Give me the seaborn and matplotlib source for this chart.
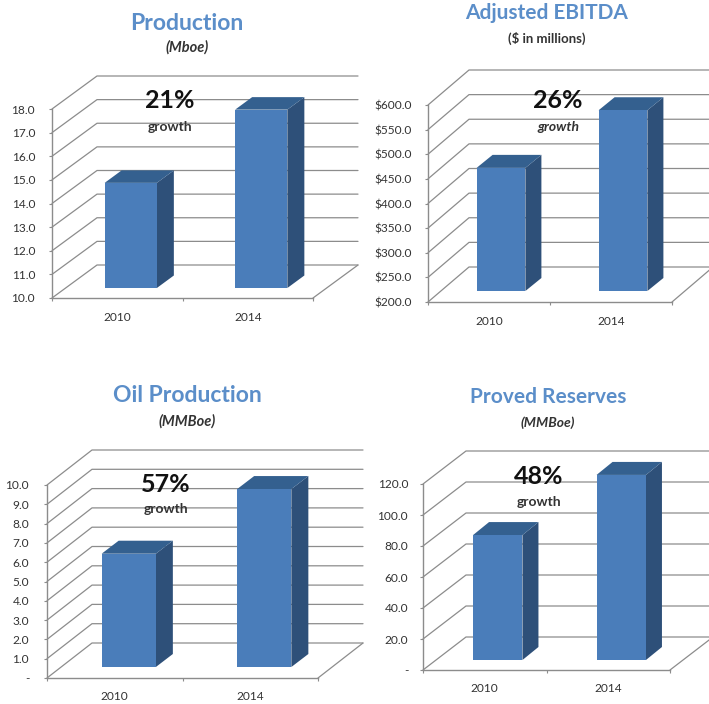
import matplotlib
matplotlib.use("Agg")
import matplotlib.pyplot as plt
import seaborn as sns
from matplotlib.lines import Line2D
from matplotlib.patches import Polygon
from matplotlib.transforms import Affine2D, IdentityTransform

# ---- data ----
years = ["2010", "2014"]
production = [14.45, 17.55]
ebitda = [450.0, 567.0]
oil = [5.87, 9.22]
reserves = [80.6, 119.4]

production_ticks = [10, 11, 12, 13, 14, 15, 16, 17, 18]
production_labels = ["10.0", "11.0", "12.0", "13.0", "14.0", "15.0", "16.0", "17.0", "18.0"]
ebitda_ticks = [200, 250, 300, 350, 400, 450, 500, 550, 600]
ebitda_labels = ["$200.0", "$250.0", "$300.0", "$350.0", "$400.0", "$450.0", "$500.0", "$550.0", "$600.0"]
oil_ticks = [0, 1, 2, 3, 4, 5, 6, 7, 8, 9, 10]
oil_labels = ["-", "1.0", "2.0", "3.0", "4.0", "5.0", "6.0", "7.0", "8.0", "9.0", "10.0"]
reserves_ticks = [0, 20, 40, 60, 80, 100, 120]
reserves_labels = ["-", "20.0", "40.0", "60.0", "80.0", "100.0", "120.0"]

W, H = 709, 704
FRONT, SIDE, TOP = "#4a7dba", "#2e5079", "#34608f"
GRID = "#8c8c8c"
TITLE_C = "#5b8ec9"

sns.set_style("white")
plt.rcParams["font.family"] = ["Lato", "DejaVu Sans"]
plt.rcParams["axes.unicode_minus"] = False

fig = plt.figure(figsize=(W / 100, H / 100), dpi=100, facecolor="white")

charts = [
    dict(vals=production, ticks=production_ticks, labels=production_labels,
         box=(52, 313, 109, 298), depth=(45, -33), inset=(13.5, -10), bar=(17, -12.5), pad=16,
         title="Production", title_xy=(187, 23), title_fs=16.5,
         sub="(Mboe)", sub_xy=(187, 47), sub_style="italic", sub_fs=10.5,
         pct="21%", pct_xy=(170, 101), growth_xy=(170, 127), growth_style="normal", xpad=12),
    dict(vals=ebitda, ticks=ebitda_ticks, labels=ebitda_labels,
         box=(428, 672, 105, 302), depth=(41, -35), inset=(12, -11), bar=(16, -13), pad=15,
         title="Adjusted EBITDA", title_xy=(547, 13), title_fs=15,
         sub="($ in millions)", sub_xy=(547, 38), sub_style="normal", sub_fs=9.5,
         pct="26%", pct_xy=(558, 100), growth_xy=(558, 127), growth_style="italic", xpad=12),
    dict(vals=oil, ticks=oil_ticks, labels=oil_labels,
         box=(47, 318, 485, 678), depth=(45, -35), inset=(14, -11), bar=(17, -13), pad=17,
         title="Oil Production", title_xy=(187, 396), title_fs=16.5,
         sub="(MMBoe)", sub_xy=(187, 421), sub_style="italic", sub_fs=10.5,
         pct="57%", pct_xy=(166, 484), growth_xy=(166, 509), growth_style="normal", xpad=11),
    dict(vals=reserves, ticks=reserves_ticks, labels=reserves_labels,
         box=(423, 670, 484, 670), depth=(43, -33), inset=(13, -10), bar=(16, -13), pad=14,
         title="Proved Reserves", title_xy=(548, 397), title_fs=15,
         sub="(MMBoe)", sub_xy=(548, 423), sub_style="italic", sub_fs=10,
         pct="48%", pct_xy=(539, 477), growth_xy=(539, 502), growth_style="normal", xpad=11),
]


def draw_chart(c):
    x0, x1, ytop, ybot = c["box"]
    ax = fig.add_axes([x0 / W, 1 - ybot / H, (x1 - x0) / W, (ybot - ytop) / H])
    ax.patch.set_alpha(0)
    sns.barplot(x=years, y=c["vals"], color=FRONT, saturation=1, width=0.4, linewidth=0, ax=ax, zorder=3)
    ymin, ymax = c["ticks"][0], c["ticks"][-1]
    ax.set_xlim(-0.5, 1.5)
    ax.set_ylim(ymin, ymax)
    ax.set_yticks(c["ticks"], c["labels"])
    ax.set_xticks([0, 1], years)
    ax.set_xticks([-0.5, 0.5, 1.5], minor=True)

    for s in ("top", "right"):
        ax.spines[s].set_visible(False)
    for s in ("left", "bottom"):
        ax.spines[s].set_color(GRID)
        ax.spines[s].set_linewidth(1.0)
    ax.tick_params(axis="y", which="major", left=True, length=2, width=0.8, color=GRID,
                   pad=c["pad"] * 0.72 - 1.4, labelsize=8.6, labelcolor="#333333")
    ax.tick_params(axis="x", which="major", length=0, pad=c["xpad"] * 0.72 + 1.4,
                   labelsize=8.6, labelcolor="#333333")
    ax.tick_params(axis="x", which="minor", bottom=True, length=2, width=0.8, color=GRID)

    dx, dy = c["depth"]
    ix, iy = c["inset"]
    bx, by = c["bar"]
    to_px = ax.transData.transform
    ident = IdentityTransform()

    # receding gridlines: from the y axis to the back wall, then across the wall
    for t in c["ticks"]:
        a = to_px((-0.5, t))
        b = to_px((1.5, t))
        xs = [a[0], a[0] + dx, b[0] + dx]
        ys = [a[1], a[1] - dy, b[1] - dy]
        ax.add_line(Line2D(xs, ys, transform=ident, color=GRID, lw=0.9, clip_on=False, zorder=1))
    # right edge of the floor
    a = to_px((1.5, ymin))
    ax.add_line(Line2D([a[0], a[0] + dx], [a[1], a[1] - dy], transform=ident,
                       color=GRID, lw=0.9, clip_on=False, zorder=1))

    # bars sit inside the floor depth: shift the seaborn bars and add top and side faces
    shift = Affine2D().translate(ix, -iy)
    for p, v in zip(ax.patches, c["vals"]):
        p.set_y(ymin)
        p.set_height(v - ymin)
        left, right = p.get_x(), p.get_x() + p.get_width()
        bl = to_px((left, ymin)) + (ix, -iy)
        br = to_px((right, ymin)) + (ix, -iy)
        tl = to_px((left, v)) + (ix, -iy)
        tr = to_px((right, v)) + (ix, -iy)
        off = (bx, -by)
        ax.add_patch(Polygon([br, tr, tr + off, br + off], closed=True, transform=ident,
                             facecolor=SIDE, edgecolor="none", clip_on=False, zorder=2.5))
        ax.add_patch(Polygon([tl, tr, tr + off, tl + off], closed=True, transform=ident,
                             facecolor=TOP, edgecolor="none", clip_on=False, zorder=2.5))
        p.set_transform(ax.transData + shift)
        p.set_clip_on(False)

    def label(xy, s, **kw):
        fig.text(xy[0] / W, 1 - xy[1] / H, s, ha="center", va="center", **kw)

    label(c["title_xy"], c["title"], fontsize=c["title_fs"], fontweight="bold", color=TITLE_C)
    label(c["sub_xy"], c["sub"], fontsize=c["sub_fs"], fontweight="bold", style=c["sub_style"], color="#333333")
    label(c["pct_xy"], c["pct"], fontsize=18, fontweight="bold", color="#111111")
    label(c["growth_xy"], "growth", fontsize=10, fontweight="bold", style=c["growth_style"], color="#333333")


for chart in charts:
    draw_chart(chart)

fig.savefig("out.png", dpi=100, facecolor="white")
